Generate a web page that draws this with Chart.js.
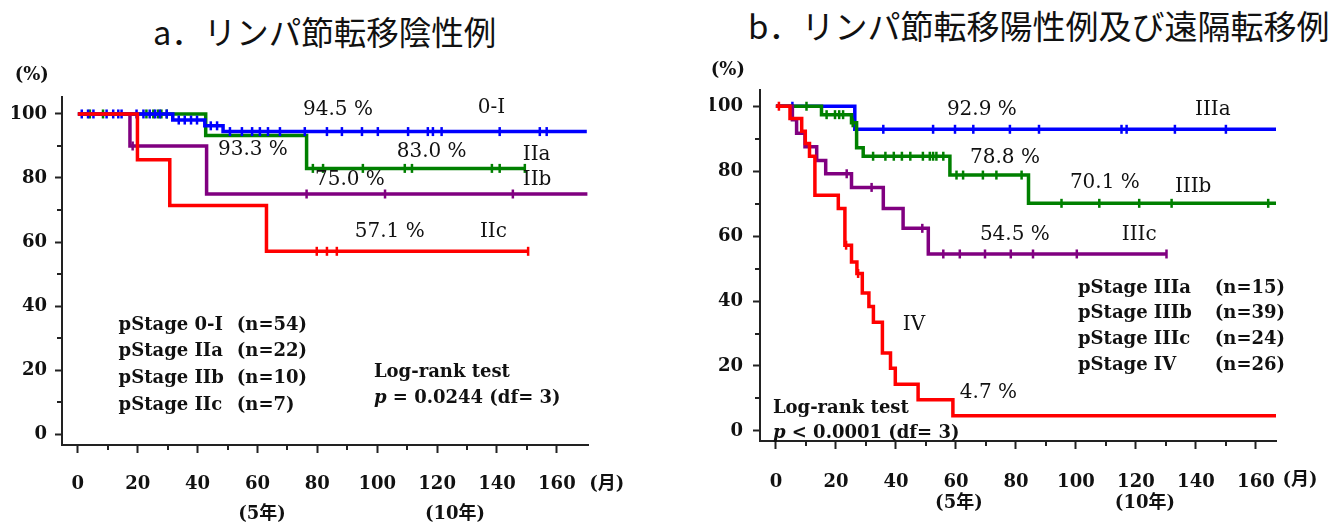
<!DOCTYPE html>
<html><head><meta charset="utf-8">
<script src="https://cdn.jsdelivr.net/npm/chart.js@4.4.1/dist/chart.umd.min.js"></script>
<style>
html,body{margin:0;padding:0;background:#fff;width:1342px;height:523px;overflow:hidden;position:relative}
canvas{position:absolute;top:0}
#cA{left:0}
#cB{left:670px}
.title{position:absolute;font-family:"Noto Sans CJK JP",sans-serif;font-weight:400;color:#111;white-space:nowrap;line-height:1}
</style></head><body>
<div class="title" style="left:153px;top:15px;font-size:32.5px">a．リンパ節転移陰性例</div>
<div class="title" style="left:748px;top:9px;font-size:33px">b．リンパ節転移陽性例及び遠隔転移例</div>
<canvas id="cA" width="670" height="523"></canvas>
<canvas id="cB" width="672" height="523"></canvas>
<script>
// ---------- tick labels ----------
const xTicks = [0, 20, 40, 60, 80, 100, 120, 140, 160];
const xMinorTicks = [10, 30, 50, 70, 90, 110, 130, 150];
const yTicks = [0, 20, 40, 60, 80, 100];
const yMinorTicks = [10, 30, 50, 70, 90];

// ---------- chart a : lymph-node negative ----------
const a_0I_time = [0, 31.7, 42.4, 48.5, 170.0];
const a_0I_surv = [100, 98.1, 96.3, 94.5, 94.5];
const a_0I_cens = [1.3, 3.4, 5.2, 9.6, 11.8, 13.5, 14.6, 19.6, 21.9, 24.0, 25.8, 27.4, 29.7, 33.7, 35.7, 37.8, 39.8, 44.4, 46.5, 50.8, 54.8, 58.2, 60.8, 63.5, 67.5, 75.8, 83.2, 88.2, 94.9, 100.2, 110.3, 116.9, 118.6, 121.5, 140.9, 154.3, 156.6];

const a_IIa_time = [0, 42.7, 76.4, 149.3];
const a_IIa_surv = [100, 93.3, 83.0, 83.0];
const a_IIa_cens = [4.0, 8.4, 22.9, 25.2, 26.8, 27.9, 29.7, 78.5, 81.9, 95.2, 109.2, 111.6, 138.3, 140.9, 149.3];

const a_IIb_time = [0, 17.4, 43.0, 170.2];
const a_IIb_surv = [100, 90.0, 75.0, 75.0];
const a_IIb_cens = [18.3, 76.4, 102.6, 145.3];

const a_IIc_time = [0, 19.9, 30.7, 63.0, 150.4];
const a_IIc_surv = [100, 85.7, 71.4, 57.1, 57.1];
const a_IIc_cens = [79.8, 83.2, 86.5, 150.4];

const a_legendNames = ['pStage 0-I', 'pStage IIa', 'pStage IIb', 'pStage IIc'];
const a_legendN = ['(n=54)', '(n=22)', '(n=10)', '(n=7)'];

// ---------- chart b : lymph-node positive / distant metastasis ----------
const b_IIIa_time = [0, 26.3, 166.7];
const b_IIIa_surv = [100, 92.9, 92.9];
const b_IIIa_cens = [5.5, 35.8, 52.4, 59.7, 65.8, 78.0, 87.7, 115.2, 116.9, 133.0, 150.0];

const b_IIIb_time = [0, 15.2, 25.2, 26.9, 29.1, 58.0, 84.2, 166.7];
const b_IIIb_surv = [100, 97.4, 94.9, 87.2, 84.6, 78.8, 70.1, 70.1];
const b_IIIb_cens = [10.2, 16.9, 19.7, 21.1, 22.4, 25.6, 32.4, 36.5, 39.3, 42.0, 44.8, 49.0, 51.3, 52.4, 53.5, 55.8, 60.2, 62.4, 69.0, 73.5, 81.9, 95.2, 107.8, 121.1, 131.9, 164.1];

const b_IIIc_time = [0, 5.5, 6.9, 9.7, 13.6, 16.6, 25.2, 35.8, 42.4, 50.8, 130.2];
const b_IIIc_surv = [100, 95.8, 91.7, 87.5, 83.3, 79.2, 75.0, 68.5, 62.4, 54.5, 54.5];
const b_IIIc_cens = [23.6, 31.9, 48.8, 55.8, 61.3, 69.7, 78.3, 85.7, 100.3, 130.2];

const b_IV_time = [0, 4.7, 8.6, 9.8, 11.2, 13.0, 20.8, 23.0, 25.2, 27.0, 28.8, 31.0, 32.5, 35.5, 38.2, 39.8, 47.4, 59.0, 166.7];
const b_IV_surv = [100, 96.2, 92.3, 88.5, 84.6, 72.6, 68.5, 57.2, 52.0, 48.5, 42.5, 38.3, 33.5, 24.0, 19.3, 14.4, 9.6, 4.7, 4.7];
const b_IV_cens = [1.0, 23.4, 27.4];

const b_legendNames = ['pStage IIIa', 'pStage IIIb', 'pStage IIIc', 'pStage IV'];
const b_legendN = ['(n=15)', '(n=39)', '(n=24)', '(n=26)'];

// ---------- styling ----------
const BLUE = '#0000ff', GREEN = '#008000', PURPLE = '#800080', RED = '#ff0000';
const AXIS = '#222', TXT = '#111';
const SERIF = "'DejaVu Serif', 'Noto Sans CJK JP', serif";
const PCT_FONT = "20px " + SERIF;
const LEG_FONT = "bold 18px " + SERIF;
const AX_FONT = "bold 18px " + SERIF;

function stepPoints(times, surv) { return times.map((t, i) => ({ x: t, y: surv[i] })); }
function survAt(times, surv, t) { let s = surv[0]; for (let i = 0; i < times.length; i++) { if (times[i] <= t) s = surv[i]; } return s; }
function censorPoints(times, surv, cens) { return cens.map(t => ({ x: t, y: survAt(times, surv, t) })); }

function seriesDatasets(times, surv, cens, color, order) {
  return [
    { type: 'line', data: stepPoints(times, surv), stepped: 'before', borderColor: color, borderWidth: 3.5,
      pointRadius: 0, fill: false, order: order, borderCapStyle: 'butt', borderJoinStyle: 'miter' },
    { type: 'line', data: censorPoints(times, surv, cens), showLine: false, pointStyle: 'line', rotation: 90,
      pointRadius: 4.5, borderColor: color, backgroundColor: color, pointBorderWidth: 2.5, borderWidth: 2.5, order: order }
  ];
}

const extrasPlugin = {
  id: 'extras',
  afterDraw(chart, args, opts) {
    const ctx = chart.ctx, xs = chart.scales.x, ys = chart.scales.y, ca = chart.chartArea;
    ctx.save();
    ctx.strokeStyle = AXIS; ctx.lineWidth = 2;
    xMinorTicks.forEach(v => { const p = Math.round(xs.getPixelForValue(v)); ctx.beginPath(); ctx.moveTo(p, ca.bottom); ctx.lineTo(p, ca.bottom + 5); ctx.stroke(); });
    yMinorTicks.forEach(v => { const p = Math.round(ys.getPixelForValue(v)); ctx.beginPath(); ctx.moveTo(ca.left, p); ctx.lineTo(ca.left - 5, p); ctx.stroke(); });
    ctx.fillStyle = TXT; ctx.textBaseline = 'middle';
    (opts.texts || []).forEach(t => {
      const parts = t.parts || [{ s: t.s, font: t.font }];
      let total = 0;
      parts.forEach(p => { ctx.font = p.font; total += ctx.measureText(p.s).width; });
      let px = xs.getPixelForValue(t.x);
      const py = ys.getPixelForValue(t.y);
      if (t.align === 'center') px -= total / 2;
      ctx.textAlign = 'left';
      parts.forEach(p => { ctx.font = p.font; ctx.fillText(p.s, px, py); px += ctx.measureText(p.s).width; });
    });
    ctx.restore();
  }
};

function makeChart(id, datasets, cfg) {
  return new Chart(document.getElementById(id), {
    type: 'line',
    data: { datasets: datasets },
    plugins: [extrasPlugin],
    options: {
      responsive: false, animation: false, devicePixelRatio: 1,
      layout: { padding: cfg.padding },
      plugins: { legend: { display: false }, tooltip: { enabled: false }, title: { display: false }, extras: { texts: cfg.texts } },
      scales: {
        x: {
          type: 'linear', position: 'bottom', min: cfg.xmin, max: cfg.xmax,
          afterBuildTicks: s => { s.ticks = xTicks.map(v => ({ value: v })); },
          afterFit: s => { s.height = 60; },
          grid: { display: true, drawOnChartArea: false, drawTicks: true, tickLength: 8, tickWidth: 2, tickColor: AXIS },
          border: { display: true, color: AXIS, width: 2 },
          ticks: { color: TXT, padding: cfg.xPad, maxRotation: 0, autoSkip: false, font: { family: SERIF, size: 18, weight: 'bold' }, callback: v => String(v) }
        },
        y: {
          type: 'linear', position: 'left', min: cfg.ymin, max: cfg.ymax,
          afterBuildTicks: s => { s.ticks = yTicks.map(v => ({ value: v })); },
          afterFit: s => { s.width = 50; },
          grid: { display: true, drawOnChartArea: false, drawTicks: true, tickLength: 7, tickWidth: 2, tickColor: AXIS },
          border: { display: true, color: AXIS, width: 2 },
          ticks: { color: TXT, padding: cfg.yPad, font: { family: SERIF, size: 18, weight: 'bold' }, callback: v => String(v) }
        }
      }
    }
  });
}

function legendTexts(names, ns, xName, xN, ys) {
  const out = [];
  names.forEach((n, i) => { out.push({ s: n, font: LEG_FONT, x: xName, y: ys[i] }); out.push({ s: ns[i], font: LEG_FONT, x: xN, y: ys[i] }); });
  return out;
}

// ---------- chart a ----------
const dsA = [].concat(
  seriesDatasets(a_IIc_time, a_IIc_surv, a_IIc_cens, RED, 0),
  seriesDatasets(a_IIb_time, a_IIb_surv, a_IIb_cens, PURPLE, 1),
  seriesDatasets(a_0I_time, a_0I_surv, a_0I_cens, BLUE, 2),
  seriesDatasets(a_IIa_time, a_IIa_surv, a_IIa_cens, GREEN, 3)
);
const textsA = [
  { s: '94.5 %', font: PCT_FONT, x: 75.2, y: 101.3 },
  { s: '0-I', font: PCT_FONT, x: 133.6, y: 101.9 },
  { s: '93.3 %', font: PCT_FONT, x: 46.8, y: 88.7 },
  { s: '83.0 %', font: PCT_FONT, x: 106.5, y: 88.1 },
  { s: 'IIa', font: PCT_FONT, x: 148.6, y: 87.2 },
  { s: '75.0 %', font: PCT_FONT, x: 79.2, y: 79.4 },
  { s: 'IIb', font: PCT_FONT, x: 148.6, y: 79.4 },
  { s: '57.1 %', font: PCT_FONT, x: 92.5, y: 63.1 },
  { s: 'IIc', font: PCT_FONT, x: 134.3, y: 63.1 },
  { s: 'Log-rank test', font: LEG_FONT, x: 98.9, y: 19.4 },
  { parts: [{ s: 'p', font: 'italic bold 18px ' + SERIF }, { s: ' = 0.0244 (df= 3)', font: LEG_FONT }], x: 98.9, y: 11.2 },
  { s: '(%)', font: AX_FONT, x: -15.4, y: 112.2, align: 'center' },
  { s: '(5年)', font: AX_FONT, x: 61.5, y: -25.2, align: 'center' },
  { s: '(10年)', font: AX_FONT, x: 126, y: -25.2, align: 'center' },
  { s: '(月)', font: AX_FONT, x: 176.7, y: -15.6, align: 'center' }
].concat(legendTexts(a_legendNames, a_legendN, 13.6, 53.1, [34.1, 25.9, 17.5, 9.1]));

makeChart('cA', dsA, {
  xmin: -5.3, xmax: 170.4, ymin: -3.4, ymax: 105.3, xPad: 21, yPad: 8,
  padding: { left: 12, top: 97, right: 82, bottom: 18 },
  texts: textsA
});

// ---------- chart b ----------
const dsB = [].concat(
  seriesDatasets(b_IV_time, b_IV_surv, b_IV_cens, RED, 0),
  seriesDatasets(b_IIIc_time, b_IIIc_surv, b_IIIc_cens, PURPLE, 1),
  seriesDatasets(b_IIIb_time, b_IIIb_surv, b_IIIb_cens, GREEN, 2),
  seriesDatasets(b_IIIa_time, b_IIIa_surv, b_IIIa_cens, BLUE, 3)
);
const textsB = [
  { s: '92.9 %', font: PCT_FONT, x: 57, y: 98.8 },
  { s: 'IIIa', font: PCT_FONT, x: 139.7, y: 98.8 },
  { s: '78.8 %', font: PCT_FONT, x: 64.7, y: 84 },
  { s: '70.1 %', font: PCT_FONT, x: 98, y: 76.3 },
  { s: 'IIIb', font: PCT_FONT, x: 133, y: 75.1 },
  { s: '54.5 %', font: PCT_FONT, x: 68, y: 60.3 },
  { s: 'IIIc', font: PCT_FONT, x: 115.3, y: 60.3 },
  { s: 'IV', font: PCT_FONT, x: 42.3, y: 32.6 },
  { s: '4.7 %', font: PCT_FONT, x: 61.3, y: 11.7 },
  { s: 'Log-rank test', font: LEG_FONT, x: -1, y: 7.1 },
  { parts: [{ s: 'p', font: 'italic bold 18px ' + SERIF }, { s: ' < 0.0001 (df= 3)', font: LEG_FONT }], x: -1, y: -0.6 },
  { s: '(%)', font: AX_FONT, x: -16, y: 111, align: 'center' },
  { s: '(5年)', font: AX_FONT, x: 61, y: -22.4, align: 'center' },
  { s: '(10年)', font: AX_FONT, x: 123, y: -22.4, align: 'center' },
  { s: '(月)', font: AX_FONT, x: 174.7, y: -15.3, align: 'center' }
].concat(legendTexts(b_legendNames, b_legendN, 100.7, 146.3, [44, 36.3, 28.3, 20.3]));

makeChart('cB', dsB, {
  xmin: -5.3, xmax: 166.7, ymin: -3.1, ymax: 105, xPad: 23, yPad: 10,
  padding: { left: 40, top: 90, right: 66, bottom: 22 },
  texts: textsB
});
</script>
</body></html>
